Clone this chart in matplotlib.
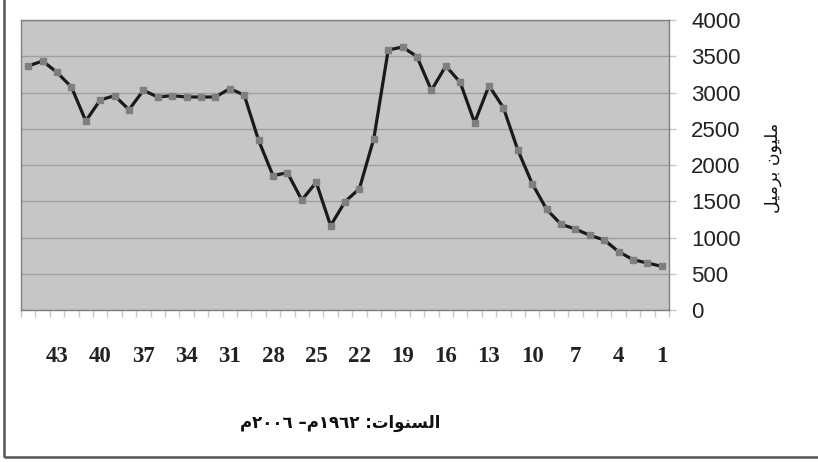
import numpy as np
import matplotlib
matplotlib.use("Agg")
import matplotlib.pyplot as plt
from matplotlib.patches import Rectangle
from matplotlib.ticker import FixedLocator

# period numbers, left to right (axis runs 45 -> 1)
periods = list(range(45, 0, -1))
production = [
    3366, 3434, 3278, 3076, 2607, 2897, 2956, 2763, 3030, 2938,
    2956, 2938, 2938, 2938, 3053, 2965, 2340, 1853, 1894, 1517,
    1761, 1163, 1494, 1674, 2363, 3586, 3628, 3494, 3030, 3366,
    3140, 2584, 3094, 2791, 2207, 1743, 1389, 1182, 1117, 1030,
    966, 805, 694, 648, 602,
]
label_periods = [43, 40, 37, 34, 31, 28, 25, 22, 19, 16, 13, 10, 7, 4, 1]
y_ticks = [0, 500, 1000, 1500, 2000, 2500, 3000, 3500, 4000]

# Arabic written in presentation forms, visual order (matplotlib has no shaping)
ylabel_text = "\uFEDE\uFEF4\uFEE3\uFEAE\uFE91 \uFEE5\uFEEE\uFEF4\uFEE0\uFEE3"   # مليون برميل
xlabel_text = ("\uFEE1\u0662\u0660\u0660\u0666 \u2013\uFEE1\u0661\u0669\u0666\u0662 :"
               "\uFE95\uFE8D\uFEEE\uFEE8\uFEB4\uFEDF\uFE8D")                      # السنوات: ١٩٦٢م– ٢٠٠٦م

W, H = 818, 462
fig = plt.figure(figsize=(W / 100, H / 100), dpi=100)
ax = fig.add_axes([21 / W, (H - 310) / H, (669 - 21) / W, (310 - 20) / H])

ax.set_facecolor("#c6c6c6")
ax.plot(periods, production, color="#1a1a1a", linewidth=2.3, zorder=3)
ax.plot(periods, production, linestyle="none", marker="s", markersize=4.6,
        color="#7f7f7f", zorder=4)

ax.set_xlim(45.5, 0.5)
ax.set_ylim(0, 4000)
ax.set_yticks(y_ticks)
ax.yaxis.tick_right()
ax.grid(axis="y", color="#a0a0a0", linewidth=1)
ax.set_axisbelow(True)

ax.set_xticks(label_periods)
ax.set_xticklabels([str(p) for p in label_periods], fontfamily="Liberation Serif",
                   fontweight="bold", fontsize=16.5, color="#222222")
ax.xaxis.set_minor_locator(FixedLocator(np.arange(0.5, 46, 1)))
ax.tick_params(axis="x", which="major", length=0, pad=26)
ax.tick_params(axis="x", which="minor", length=5, color="#c8c8c8", width=1)
ax.tick_params(axis="y", length=5, color="#c8c8c8", width=1, pad=11,
               labelsize=16, labelcolor="#222222")
for t in ax.get_yticklabels():
    t.set_fontfamily("Liberation Sans")

for s in ax.spines.values():
    s.set_color("#808080")
    s.set_linewidth(1)

fig.text(773 / W, 1 - 168 / H, ylabel_text, rotation=90, ha="center", va="center",
         fontsize=12.5, fontfamily="DejaVu Sans", color="#111111")
fig.text(340 / W, 1 - 423 / H, xlabel_text, ha="center", va="center",
         fontsize=12, fontfamily="DejaVu Sans", fontweight="bold", color="#111111")

fig.patches.append(Rectangle((4 / W, 5 / H), 1.0, 1.0, transform=fig.transFigure,
                             fill=False, edgecolor="#555555", linewidth=1.8))

fig.savefig("out.png", dpi=100)
plt.close(fig)
